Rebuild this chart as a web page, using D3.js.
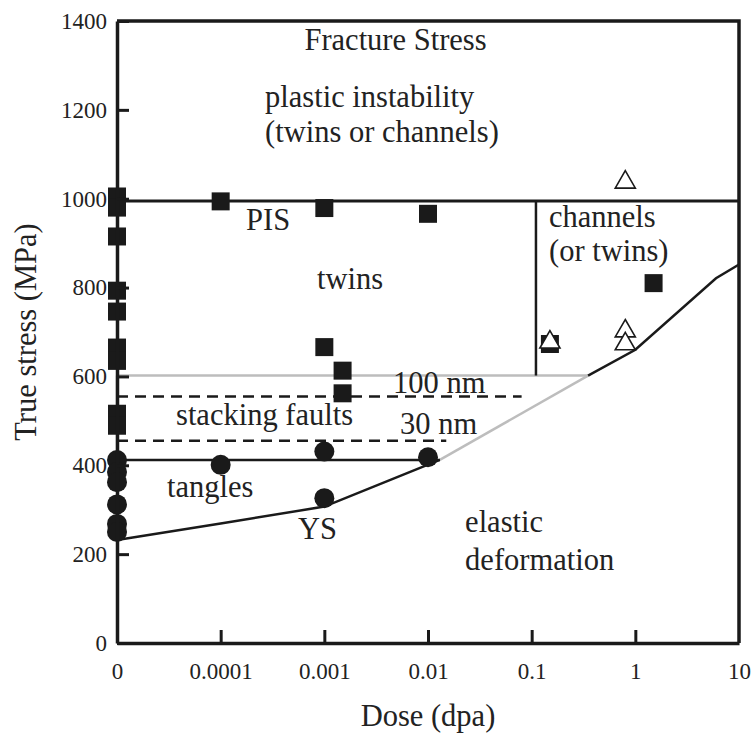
<!DOCTYPE html>
<html><head><meta charset="utf-8">
<script src="https://cdn.jsdelivr.net/npm/d3@7"></script>
<style>
html,body{margin:0;padding:0;background:#fff;}
svg text{font-family:"Liberation Serif","Times New Roman",serif;fill:#222;}
</style></head>
<body><svg id="c" width="755" height="733"></svg>
<script>
// ---------- data ----------
const doseTicks = [0, 0.0001, 0.001, 0.01, 0.1, 1, 10];
const doseTickLabels = ["0", "0.0001", "0.001", "0.01", "0.1", "1", "10"];
const stressTicks = [0, 200, 400, 600, 800, 1000, 1200, 1400];
const stressTickLabels = ["0", "200", "400", "600", "800", "1000", "1200", "1400"];

// filled squares (twins / PIS)
const squareDose   = [0, 0, 0, 0, 0, 0, 0, 0, 0, 0.0001, 0.001, 0.01, 0.001, 0.0015, 0.0015, 0.15, 1.5];
const squareStress = [1005, 980, 915, 793, 746, 665, 635, 516, 489, 994, 979, 966, 666, 613, 562, 673, 810];

// filled circles (yield / tangles)
const circleDose   = [0, 0, 0, 0, 0, 0, 0.0001, 0.001, 0.001, 0.01];
const circleStress = [412, 385, 362, 312, 268, 250, 401, 431, 326, 418];

// open triangles (channels)
const triDose   = [0.15, 0.8, 0.8, 0.8];
const triStress = [677, 1037, 702, 673];

// yield stress curve: black low part, grey middle, black high part
const ysLowDose = [0, 0.0001, 0.001, 0.013];
const ysLowStress = [232, 269, 307, 412];
const ysMidDose = [0.013, 0.35];
const ysMidStress = [412, 602];
const ysHighDose = [0.35, 1, 6, 10];
const ysHighStress = [602, 660, 821, 852];

// region boundaries
const pisStress = 995;          // plastic instability stress
const channelDose = 0.11;       // twins / channels boundary
const sfTopStress = 602;        // stacking-fault region top (grey)
const tangleStress = 412;       // tangles / stacking-fault boundary
const tangleEndDose = 0.013;
const sfTopEndDose = 0.35;
const dash100Stress = 555, dash100EndDose = 0.08;
const dash30Stress = 455,  dash30EndDose = 0.015;

// annotation text [text, dose, stress, anchor]
const labels = [
  ["Fracture Stress", 0.00486, 1335, "middle"],
  ["plastic instability", 0.000268, 1206, "start"],
  ["(twins or channels)", 0.000268, 1128, "start"],
  ["PIS", 0.000176, 930, "start"],
  ["twins", 0.00177, 797, "middle"],
  ["channels", 0.147, 936, "start"],
  ["(or twins)", 0.147, 860, "start"],
  ["100 nm", 0.0046, 563, "start"],
  ["30 nm", 0.00537, 470, "start"],
  ["stacking faults", 0.0000371, 491, "start"],
  ["tangles", 0.0000304, 329, "start"],
  ["YS", 0.000557, 234, "start"],
  ["elastic", 0.0228, 250, "start"],
  ["deformation", 0.0228, 164, "start"]
];
const xTitle = "Dose (dpa)";
const yTitle = "True stress (MPa)";

// ---------- layout ----------
const W = 755, H = 733;
const m = {left: 117, right: 16, top: 21, bottom: 90};
const svg = d3.select("#c");
const zero = 1e-5;
const xv = d => d === 0 ? zero : d;
const x = d3.scaleLog().domain([zero, 10]).range([m.left, W - m.right]);
const y = d3.scaleLinear().domain([0, 1400]).range([H - m.bottom, m.top]);
const X = d => x(xv(d));

const BLACK = "#1a1a1a", GREY = "#bdbdbd";
const FONT = "Liberation Serif, Times New Roman, serif";
const line = d3.line().x(p => X(p[0])).y(p => y(p[1]));
const zip = (a, b) => a.map((v, i) => [v, b[i]]);
const g = svg.append("g").attr("font-family", FONT);

function seg(pts, color, w, dash) {
  const p = g.append("path").attr("d", line(pts)).attr("fill", "none")
    .attr("stroke", color).attr("stroke-width", w);
  if (dash) p.attr("stroke-dasharray", dash);
  return p;
}

// axes
const xAxis = d3.axisBottom(x).tickValues(doseTicks.map(xv))
  .tickFormat((d, i) => doseTickLabels[i]).tickSizeInner(-13).tickSizeOuter(0).tickPadding(20);
const yAxis = d3.axisLeft(y).tickValues(stressTicks)
  .tickFormat((d, i) => stressTickLabels[i]).tickSizeInner(-12).tickSizeOuter(0).tickPadding(10);
const gx = svg.append("g").attr("transform", `translate(0,${y(0)})`).call(xAxis);
const gy = svg.append("g").attr("transform", `translate(${x(zero)},0)`).call(yAxis);
[gx, gy].forEach(a => {
  a.attr("font-family", FONT).attr("font-size", 23);
  a.select(".domain").attr("stroke", BLACK).attr("stroke-width", 3.5);
  a.selectAll(".tick line").attr("stroke", BLACK).attr("stroke-width", 3);
  a.selectAll(".tick text").attr("fill", "#222");
});
gx.selectAll(".tick").filter((d, i) => i === 0 || i === doseTicks.length - 1).select("line").remove();
// frame top & right
seg([[0, 1400], [10, 1400], [10, 0]], BLACK, 3.5);

// grey stacking-fault boundary
seg([[0, tangleStress], [0, sfTopStress]], "#fff", 4);
seg([[0, tangleStress], [0, sfTopStress]], GREY, 2.5);
seg([[0, sfTopStress], [sfTopEndDose, sfTopStress]], GREY, 2.5);
seg(zip(ysMidDose, ysMidStress), GREY, 2.5);

// dashed sub-boundaries
seg([[0, dash100Stress], [dash100EndDose, dash100Stress]], BLACK, 2.5, "11,7");
seg([[0, dash30Stress], [dash30EndDose, dash30Stress]], BLACK, 2.5, "11,7");

// black boundaries
seg([[0, pisStress], [10, pisStress]], BLACK, 3);
seg([[channelDose, pisStress], [channelDose, sfTopStress]], BLACK, 2.5);
seg([[0, tangleStress], [tangleEndDose, tangleStress]], BLACK, 2.5);
seg(zip(ysLowDose, ysLowStress), BLACK, 2.5);
seg(zip(ysHighDose, ysHighStress), BLACK, 2.5);

// points
const sq = d3.symbol().type(d3.symbolSquare).size(18 * 18);
g.selectAll("path.sq").data(zip(squareDose, squareStress)).join("path")
  .attr("class", "sq").attr("d", sq)
  .attr("transform", d => `translate(${X(d[0])},${y(d[1])})`).attr("fill", BLACK);
g.selectAll("circle.ci").data(zip(circleDose, circleStress)).join("circle")
  .attr("class", "ci").attr("r", 10).attr("cx", d => X(d[0])).attr("cy", d => y(d[1])).attr("fill", BLACK);
const tri = d3.symbol().type(d3.symbolTriangle).size(175);
g.selectAll("path.tr").data(zip(triDose, triStress)).join("path")
  .attr("class", "tr").attr("d", tri)
  .attr("transform", d => `translate(${X(d[0])},${y(d[1])})`)
  .attr("fill", "#fff").attr("stroke", BLACK).attr("stroke-width", 1.6);

// annotations
g.selectAll("text.lab").data(labels).join("text").attr("class", "lab")
  .attr("x", d => X(d[1])).attr("y", d => y(d[2]))
  .attr("text-anchor", d => d[3]).attr("font-size", 30.5).text(d => d[0]);

// axis titles
svg.append("text").attr("x", (x.range()[0] + x.range()[1]) / 2).attr("y", 726)
  .attr("text-anchor", "middle").attr("font-size", 30.5).text(xTitle);
svg.append("text").attr("transform", `translate(36,${(y.range()[0] + y.range()[1]) / 2})rotate(-90)`)
  .attr("text-anchor", "middle").attr("font-size", 30.5).text(yTitle);
</script></body></html>
